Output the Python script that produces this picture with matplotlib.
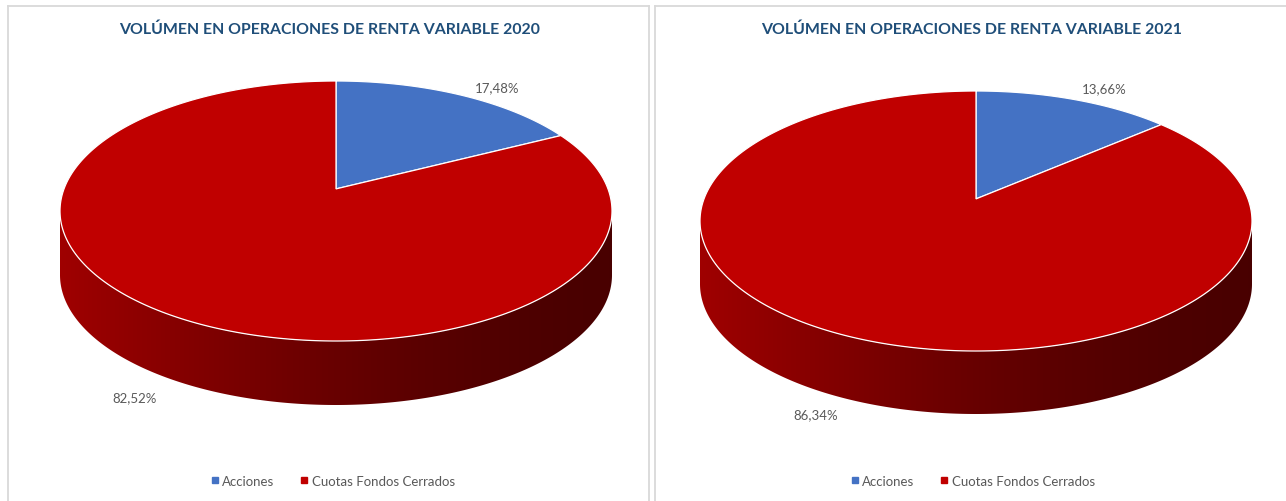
import numpy as np
import matplotlib
matplotlib.use('Agg')
import matplotlib.pyplot as plt
import matplotlib.colors as mcolors
from matplotlib.patches import Polygon
from matplotlib.lines import Line2D

plt.rcParams['font.family'] = ['Lato', 'DejaVu Sans']

# ── datos ──────────────────────────────────
titles = ['VOLÚMEN EN OPERACIONES DE RENTA VARIABLE 2020',
          'VOLÚMEN EN OPERACIONES DE RENTA VARIABLE 2021']
categories = ['Acciones', 'Cuotas Fondos Cerrados']
shares_2020 = [17.48, 82.52]
shares_2021 = [13.66, 86.34]
colors = ['#4472C4', '#C00000']

# ── layout (pixeles de la figura) ─────────
W, H = 1286, 502
PERSP = 0.17          # desplazamiento del centro por perspectiva
panels = [
    dict(x0=8, x1=649, cx=336, cy=212, rx=276, ry=130, depth=64, title_x=330,
         right_spine=True, shares=shares_2020, title=titles[0]),
    dict(x0=655, x1=1286, cx=976, cy=222, rx=276, ry=130, depth=63, title_x=972,
         right_spine=False, shares=shares_2021, title=titles[1]),
]
label_k = [(1.12, 1.12), (1.40, 1.10)]   # factor de radio (x, y) para etiquetas


def proj(t_deg, k, p):
    """disco unitario (angulo horario desde arriba) -> pixeles con perspectiva"""
    t = np.radians(t_deg)
    X, Y = k * np.sin(t), k * np.cos(t)
    den = 1 + PERSP * Y
    x = p['cx'] + p['rx'] * np.sqrt(1 - PERSP ** 2) * X / den
    y = p['cy'] - p['ry'] * (Y + PERSP) / den
    return x, y


def side_shade(rgb, u):
    f = 0.38 + 0.45 * (1 - u) ** 1.5
    return np.clip(np.array(rgb) * f, 0, 1)


fig = plt.figure(figsize=(W / 100, H / 100), dpi=100, facecolor='white')
t_left = np.degrees(np.arccos(-PERSP))
t_right = 360 - t_left

for p in panels:
    ax = fig.add_axes([p['x0'] / W, 0, (p['x1'] - p['x0']) / W, (H - 7) / H])
    ax.set_xticks([])
    ax.set_yticks([])
    for s in ax.spines.values():
        s.set_color('#D9D9D9')
        s.set_linewidth(1.3)
    ax.spines['bottom'].set_visible(False)
    ax.spines['right'].set_visible(p['right_spine'])

    cx, cy, rx, ry, d = p['cx'], p['cy'], p['rx'], p['ry'], p['depth']
    vals = np.array(p['shares'])
    bounds = np.concatenate([[0], np.cumsum(vals) / vals.sum() * 360])

    # lateral (solo la parte frontal es visible)
    for i, c in enumerate(colors):
        lo, hi = max(bounds[i], t_left), min(bounds[i + 1], t_right)
        if lo >= hi:
            continue
        xs, ys = proj(np.linspace(lo, hi, 300), 1, p)
        pts = np.vstack([np.column_stack([xs, ys]),
                         np.column_stack([xs[::-1], ys[::-1] + d])])
        poly = Polygon(pts, closed=True, facecolor='none', edgecolor='none', zorder=1)
        ax.add_patch(poly)
        u = np.linspace(0, 1, 400)
        rgb = mcolors.to_rgb(c)
        grad = np.array([side_shade(rgb, v) for v in u])[None, :, :]
        im = ax.imshow(grad, extent=(cx - rx, cx + rx, cy + ry + d, cy - ry),
                       aspect='auto', zorder=1, interpolation='bilinear')
        im.set_clip_path(poly)

    # cara superior
    ax0, ay0 = proj(0, 0, p)
    for i, c in enumerate(colors):
        xs, ys = proj(np.linspace(bounds[i], bounds[i + 1], 400), 1, p)
        pts = np.vstack([[ax0, ay0], np.column_stack([xs, ys])])
        ax.add_patch(Polygon(pts, closed=True, facecolor=c, edgecolor='white',
                             linewidth=0.9, zorder=2))

    # etiquetas
    for i, v in enumerate(vals):
        mid = np.radians((bounds[i] + bounds[i + 1]) / 2)
        kx, ky = label_k[i]
        lx = cx + rx * kx * np.sin(mid)
        ly = cy - ry * ky * np.cos(mid)
        if np.cos(mid) < 0:
            ly += d
        ax.text(lx, ly, f'{v:.2f}%'.replace('.', ','), ha='center', va='center',
                fontsize=9.5, color='#595959', zorder=3)

    ax.set_xlim(p['x0'], p['x1'])
    ax.set_ylim(H, 7)

    ax.text(p['title_x'], 30, p['title'], ha='center', va='center', fontsize=11.4,
            fontweight='bold', color='#1F4E79')

    handles = [Line2D([], [], marker='s', ls='none', color=c, markersize=4.5) for c in colors]
    ax.legend(handles, categories, loc='center', bbox_to_anchor=(cx - 4, 482),
              bbox_transform=ax.transData, ncol=2, frameon=False, fontsize=9.5,
              labelcolor='#595959', handletextpad=0.2, columnspacing=1.8,
              handlelength=0.8)

fig.savefig('out.png', dpi=100, facecolor='white')
